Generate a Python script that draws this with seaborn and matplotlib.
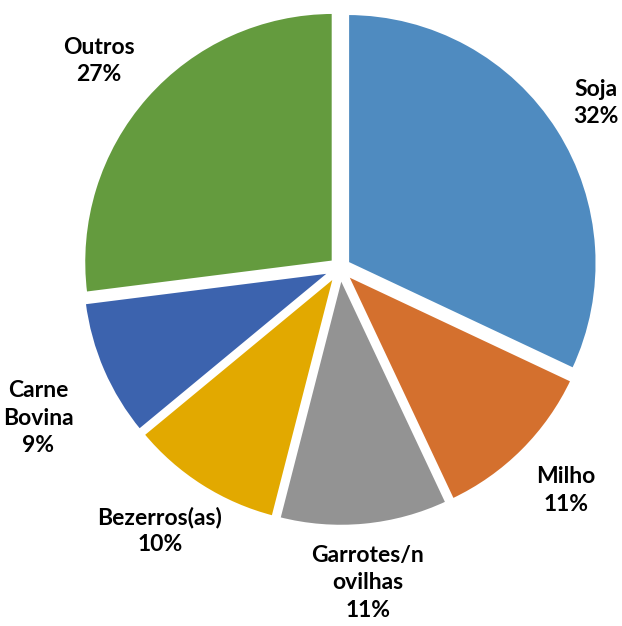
import matplotlib.pyplot as plt
import numpy as np
import seaborn as sns

sns.set_theme(style="white")
plt.rcParams['font.family'] = ['Lato', 'DejaVu Sans']

# data
categories = ["Soja", "Milho", "Garrotes/n\novilhas", "Bezerros(as)", "Carne\nBovina", "Outros"]
values = [32, 11, 11, 10, 9, 27]
colors = ["#4F8BC0", "#D4702E", "#939393", "#E2A900", "#3C63AE", "#649B3E"]
# label placement (radius, angle tweak in degrees)
label_dist = [1.224, 1.26, 1.253, 1.265, 1.344, 1.28]
label_turn = [0.9, 0.8, -0.3, -2.3, 2.6, 0.4]

fig = plt.figure(figsize=(6.22, 6.26), dpi=100)
ax = fig.add_axes([0, 0, 1, 1])

wedges, texts = ax.pie(
    values,
    colors=colors,
    startangle=90,
    counterclock=False,
    explode=[0.035] * len(values),
    wedgeprops={'edgecolor': 'white', 'linewidth': 2.5},
)

# labels: name + percent, bold, outside the slices
total = sum(values)
for w, name, v, d, t in zip(wedges, categories, values, label_dist, label_turn):
    ang = np.deg2rad((w.theta1 + w.theta2) / 2 + t)
    ax.annotate(f"{name}\n{round(v / total * 100)}%",
                xy=(d * np.cos(ang), d * np.sin(ang)),
                xytext=(0, -2.2), textcoords='offset points',
                ha='center', va='center', fontsize=16.5, fontweight='bold',
                color='black', linespacing=1.38)

ax.set_xlim(-1.36, 1.128)
ax.set_ylim(-1.433, 1.072)
ax.set_aspect('equal')
ax.axis('off')

plt.savefig("out.png", dpi=100)
